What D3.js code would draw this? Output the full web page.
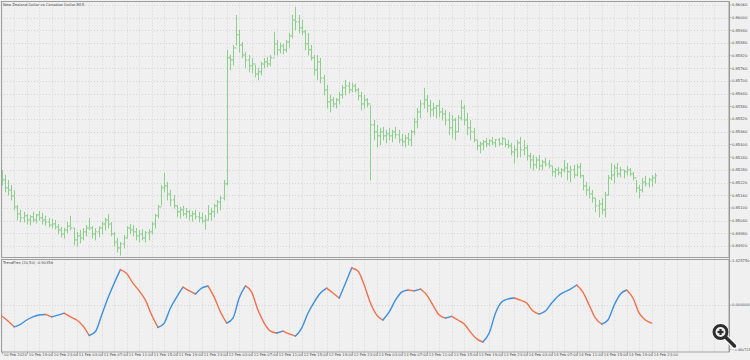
<!DOCTYPE html>
<html><head><meta charset="utf-8">
<script src="https://cdn.jsdelivr.net/npm/d3@7"></script>
<style>
html,body{margin:0;padding:0;background:#f0f0f0;}
svg{display:block;font-family:Tahoma,"DejaVu Sans",sans-serif;}
</style>
</head><body>
<svg id="c" width="750" height="360"></svg>
<script>
const chartTitle = "New Zealand Dollar vs Canadian Dollar,M15";
const indTitle = "TrendFlex (20,50) -0.90356";
const startTime = "2020-02-10T15:00";
const barMinutes = 30;

const high = [
.85280,.85256,.85233,.85209,.85185,.85114,.85091,.85082,.85072,.85067,
.85082,.85072,.85086,.85077,.85063,.85053,.85048,.85043,.85024,.85010,
.85005,.85034,.85063,.85005,.84987,.84996,.85005,.85019,.85053,.85014,
.85005,.85014,.85034,.85053,.85072,.85034,.84987,.84958,.84939,.84972,
.85014,.85024,.85019,.85005,.84996,.85000,.84991,.85000,.85034,.85072,
.85114,.85209,.85266,.85223,.85185,.85161,.85114,.85105,.85110,.85100,
.85091,.85086,.85091,.85082,.85077,.85067,.85114,.85100,.85119,.85138,
.85157,.85233,.85848,.85824,.85871,.86013,.85942,.85885,.85838,.85824,
.85810,.85777,.85763,.85791,.85810,.85815,.85824,.85933,.85895,.85881,
.85876,.85895,.85928,.86013,.86051,.86013,.85989,.85942,.85928,.85871,
.85824,.85824,.85810,.85729,.85682,.85635,.85625,.85620,.85649,.85682,
.85706,.85696,.85692,.85687,.85668,.85649,.85635,.85620,.85587,.85516,
.85493,.85479,.85483,.85469,.85479,.85469,.85483,.85469,.85450,.85446,
.85455,.85469,.85526,.85573,.85611,.85668,.85635,.85611,.85597,.85587,
.85611,.85573,.85564,.85554,.85540,.85526,.85540,.85611,.85587,.85550,
.85516,.85479,.85422,.85413,.85422,.85431,.85427,.85436,.85427,.85431,
.85436,.85427,.85422,.85408,.85399,.85422,.85436,.85422,.85399,.85361,
.85351,.85342,.85351,.85327,.85337,.85327,.85299,.85289,.85294,.85289,
.85327,.85313,.85299,.85304,.85308,.85313,.85256,.85223,.85204,.85185,
.85147,.85138,.85147,.85176,.85256,.85313,.85304,.85313,.85294,.85280,
.85299,.85289,.85271,.85233,.85209,.85242,.85252,.85242,.85256,.85266
];
const low = [
.85209,.85176,.85161,.85138,.85091,.85043,.85034,.85034,.85024,.85019,
.85034,.85029,.85043,.85024,.85019,.85010,.85005,.85000,.84977,.84963,
.84958,.84982,.84996,.84925,.84920,.84935,.84949,.84968,.84996,.84958,
.84949,.84963,.84977,.84996,.85005,.84968,.84920,.84892,.84877,.84911,
.84958,.84977,.84968,.84949,.84939,.84949,.84939,.84949,.84977,.85005,
.85053,.85114,.85176,.85138,.85110,.85100,.85058,.85053,.85063,.85053,
.85043,.85038,.85048,.85034,.85029,.85000,.85043,.85043,.85058,.85077,
.85091,.85138,.85209,.85753,.85777,.85871,.85838,.85810,.85763,.85744,
.85739,.85720,.85706,.85729,.85763,.85767,.85772,.85824,.85824,.85833,
.85829,.85838,.85857,.85904,.85942,.85928,.85919,.85848,.85824,.85800,
.85729,.85706,.85692,.85635,.85573,.85554,.85578,.85573,.85592,.85620,
.85635,.85644,.85649,.85649,.85611,.85564,.85573,.85578,.85233,.85422,
.85389,.85399,.85422,.85408,.85422,.85413,.85431,.85408,.85394,.85389,
.85399,.85394,.85446,.85479,.85526,.85573,.85554,.85531,.85535,.85526,
.85531,.85516,.85493,.85446,.85431,.85422,.85460,.85516,.85493,.85446,
.85422,.85413,.85375,.85361,.85375,.85389,.85394,.85399,.85389,.85394,
.85399,.85389,.85384,.85351,.85313,.85337,.85342,.85351,.85327,.85289,
.85280,.85289,.85280,.85280,.85299,.85289,.85252,.85247,.85256,.85247,
.85271,.85233,.85223,.85242,.85252,.85242,.85185,.85161,.85147,.85128,
.85082,.85058,.85072,.85058,.85161,.85233,.85218,.85247,.85247,.85242,
.85256,.85252,.85233,.85176,.85147,.85176,.85204,.85199,.85204,.85218
];
const close = [
.85233,.85195,.85185,.85157,.85105,.85072,.85053,.85063,.85043,.85058,
.85043,.85067,.85053,.85043,.85034,.85019,.85024,.85010,.84996,.84977,
.84996,.85014,.85005,.84949,.84968,.84958,.84987,.85005,.85005,.84977,
.84987,.85005,.85024,.85043,.85024,.84977,.84939,.84911,.84930,.84958,
.85005,.84996,.84987,.84968,.84977,.84958,.84982,.84987,.85024,.85063,
.85105,.85195,.85204,.85166,.85138,.85110,.85082,.85091,.85072,.85082,
.85063,.85072,.85058,.85053,.85038,.85043,.85072,.85082,.85110,.85128,
.85147,.85214,.85810,.85800,.85857,.85919,.85871,.85824,.85800,.85772,
.85781,.85734,.85744,.85781,.85791,.85781,.85810,.85876,.85848,.85866,
.85848,.85885,.85914,.85989,.85980,.85952,.85933,.85876,.85848,.85810,
.85753,.85791,.85715,.85658,.85602,.85611,.85592,.85611,.85635,.85668,
.85677,.85658,.85677,.85658,.85630,.85592,.85611,.85592,.85493,.85460,
.85441,.85460,.85441,.85450,.85441,.85460,.85446,.85422,.85413,.85431,
.85422,.85460,.85507,.85554,.85592,.85611,.85583,.85564,.85573,.85583,
.85554,.85545,.85516,.85479,.85516,.85460,.85526,.85573,.85516,.85479,
.85460,.85422,.85394,.85403,.85413,.85403,.85417,.85408,.85422,.85403,
.85427,.85399,.85394,.85365,.85375,.85408,.85375,.85384,.85346,.85327,
.85304,.85327,.85299,.85318,.85308,.85299,.85271,.85280,.85266,.85280,
.85289,.85271,.85280,.85256,.85294,.85252,.85204,.85185,.85166,.85147,
.85110,.85119,.85091,.85161,.85242,.85256,.85289,.85261,.85280,.85271,
.85280,.85261,.85242,.85195,.85185,.85223,.85214,.85233,.85242,.85252
];
// TrendFlex values, one per hour (every 2nd bar)
const trendflex = [
-0.35,-0.51,-0.70,-0.62,-0.48,-0.38,-0.32,-0.30,-0.38,-0.32,
-0.26,-0.38,-0.48,-0.67,-0.98,-0.85,-0.32,0.23,0.71,1.15,
1.02,0.71,0.46,0.16,-0.32,-0.72,-0.58,-0.09,0.26,0.58,
0.46,0.36,0.55,0.62,0.26,-0.22,-0.58,-0.42,0.23,0.62,
0.42,-0.16,-0.58,-0.84,-0.90,-0.84,-0.93,-1.00,-0.74,-0.26,
0.10,0.39,0.55,0.39,0.23,0.71,1.20,1.10,0.65,0.07,
-0.32,-0.48,-0.22,0.16,0.42,0.49,0.46,0.52,0.33,0.00,
-0.32,-0.42,-0.36,-0.48,-0.61,-0.87,-1.09,-1.19,-0.90,-0.26,
0.10,0.20,0.23,0.16,0.07,-0.19,-0.29,-0.19,0.07,0.29,
0.42,0.52,0.65,0.42,0.00,-0.42,-0.61,-0.48,0.00,0.36,
0.49,0.23,-0.26,-0.48,-0.58
];
const priceTicks = [0.8606,0.8600,0.8594,0.8588,0.8582,0.8576,0.8570,0.8564,0.8558,0.8552,
  0.8546,0.8540,0.8534,0.8528,0.8522,0.8516,0.8510,0.8504,0.8498,0.8492];
const indTicks = [1.425750, 0.000000, -1.480725];
const timeLabels = ["10 Feb 2020","10 Feb 19:00","10 Feb 23:00","11 Feb 03:00","11 Feb 07:00","11 Feb 11:00",
 "11 Feb 15:00","11 Feb 19:00","11 Feb 23:00","12 Feb 03:00","12 Feb 07:00","12 Feb 11:00","12 Feb 15:00",
 "12 Feb 19:00","12 Feb 23:00","13 Feb 03:00","13 Feb 07:00","13 Feb 11:00","13 Feb 15:00","13 Feb 19:00",
 "13 Feb 23:00","14 Feb 03:00","14 Feb 07:00","14 Feb 11:00","14 Feb 15:00","14 Feb 19:00","14 Feb 23:00"];
const labelStepHours = 4;

const svg = d3.select("#c");
const t0 = d3.timeParse("%Y-%m-%dT%H:%M")(startTime);
const barTime = i => d3.timeMinute.offset(t0, i*barMinutes);
const labelTime = k => d3.timeHour.offset(t0, k*labelStepHours);
const tEnd = labelTime(timeLabels.length-1);

const x = d3.scaleTime().domain([t0, tEnd]).range([1.7, 651.7]);
const yP = d3.scaleLinear().domain([0.8492, 0.8606]).range([246, 5]);
const yI = d3.scaleLinear().domain([indTicks[2], indTicks[0]]).range([351, 261]);

const L = 1, R = 729, mainTop = 1.5, mainBot = 257.5, indTop = 259.5, indBot = 352;
const gridColor = "#cfcfcf", frameColor = "#8c8c8c", textColor = "#4a4a4a";
const fs = 3.7;

svg.append("rect").attr("width",750).attr("height",360).attr("fill","#f0f0f0");

// vertical grid every 2 hours
const gridTimes = d3.range(0, (timeLabels.length)*2+4).map(k => d3.timeHour.offset(t0, k*2));
const gv = svg.append("g");
gridTimes.forEach(t => {
  const gx = Math.round(x(t)) + 0.5;
  if (gx <= L+1 || gx >= R) return;
  [[mainTop, mainBot],[indTop, indBot]].forEach(([a,b]) => {
    gv.append("line").attr("x1",gx).attr("x2",gx).attr("y1",a).attr("y2",b)
      .attr("stroke",gridColor).attr("stroke-width",0.8).attr("stroke-dasharray","1,2");
  });
});
priceTicks.forEach(p => {
  const gy = Math.round(yP(p)) + 0.5;
  svg.append("line").attr("x1",L).attr("x2",R).attr("y1",gy).attr("y2",gy)
    .attr("stroke",gridColor).attr("stroke-width",0.8).attr("stroke-dasharray","1,2");
});
svg.append("line").attr("x1",L).attr("x2",R).attr("y1",Math.round(yI(0))+0.5).attr("y2",Math.round(yI(0))+0.5)
  .attr("stroke",gridColor).attr("stroke-width",0.8).attr("stroke-dasharray","1,2");

svg.append("rect").attr("x",L+0.5).attr("y",mainTop).attr("width",R-L-0.5).attr("height",mainBot-mainTop)
  .attr("fill","none").attr("stroke",frameColor).attr("stroke-width",0.8);
svg.append("rect").attr("x",L+0.5).attr("y",indTop).attr("width",R-L-0.5).attr("height",indBot-indTop)
  .attr("fill","none").attr("stroke",frameColor).attr("stroke-width",0.8);

// price bars (OHLC)
const barColor = "#8ccf8c";
const gb = svg.append("g").attr("stroke",barColor).attr("stroke-width",1);
high.forEach((h,i) => {
  const bx = Math.round(x(barTime(i))) + 0.5;
  const open = i === 0 ? close[0] : close[i-1];
  gb.append("line").attr("x1",bx).attr("x2",bx).attr("y1",yP(h)).attr("y2",yP(low[i])+0.5);
  gb.append("line").attr("x1",bx-1.6).attr("x2",bx).attr("y1",yP(open)).attr("y2",yP(open));
  gb.append("line").attr("x1",bx).attr("x2",bx+1.6).attr("y1",yP(close[i])).attr("y2",yP(close[i]));
});

// TrendFlex line, colored by direction
const pts = trendflex.map((v,k) => [x(barTime(k*2)), yI(v)]);
const runs = [];
for (let k = 0; k < pts.length-1; k++) {
  const up = trendflex[k+1] >= trendflex[k];
  if (runs.length && runs[runs.length-1].up === up) runs[runs.length-1].p.push(pts[k+1]);
  else runs.push({up, p:[pts[k], pts[k+1]]});
}
const line = d3.line().curve(d3.curveMonotoneX);
runs.forEach(r => {
  svg.append("path").attr("d", line(r.p)).attr("fill","none")
    .attr("stroke", r.up ? "#3d8fe3" : "#f2704a").attr("stroke-width",1.4)
    .attr("stroke-linejoin","round").attr("stroke-linecap","round");
});

// right price axis
svg.append("line").attr("x1",R+0.5).attr("x2",R+0.5).attr("y1",mainTop).attr("y2",indBot)
  .attr("stroke",frameColor).attr("stroke-width",0.8);
priceTicks.forEach(p => {
  const ty = yP(p);
  svg.append("line").attr("x1",R+0.5).attr("x2",R+2.5).attr("y1",ty).attr("y2",ty).attr("stroke",frameColor).attr("stroke-width",0.6);
  svg.append("text").attr("x",R+3).attr("y",ty).attr("dy","0.35em").attr("font-size",fs).attr("fill",textColor)
    .text(d3.format(".5f")(p));
});
indTicks.forEach((v,k) => {
  const ty = k === 2 ? yI(v) - 1.5 : yI(v);
  svg.append("line").attr("x1",R+0.5).attr("x2",R+2.5).attr("y1",ty).attr("y2",ty).attr("stroke",frameColor).attr("stroke-width",0.6);
  svg.append("text").attr("x",R+3).attr("y",ty).attr("dy","0.35em").attr("font-size",k === 2 ? 3.3 : fs).attr("fill",textColor)
    .text(d3.format(".6f")(v));
});

// bottom time axis
timeLabels.forEach((lab,k) => {
  const tx = Math.round(x(labelTime(k))) + 0.5;
  svg.append("line").attr("x1",tx).attr("x2",tx).attr("y1",indBot).attr("y2",indBot+2.5).attr("stroke",frameColor).attr("stroke-width",0.6);
  svg.append("text").attr("x",tx+1.3).attr("y",indBot+3.6).attr("font-size",fs).attr("fill",textColor).text(lab);
});

svg.append("text").attr("x",3).attr("y",5.5).attr("font-size",fs).attr("fill",textColor).text(chartTitle);
svg.append("text").attr("x",3).attr("y",264).attr("font-size",fs).attr("fill",textColor).text(indTitle);

// magnifier icon
const mg = svg.append("g").attr("transform","translate(720.5,332)");
mg.append("line").attr("x1",5).attr("y1",5).attr("x2",14).attr("y2",14).attr("stroke","#fff").attr("stroke-width",6).attr("stroke-linecap","round");
mg.append("circle").attr("r",8.5).attr("fill","#fff");
mg.append("line").attr("x1",5).attr("y1",5).attr("x2",14).attr("y2",14).attr("stroke","#2e2e2e").attr("stroke-width",3.5).attr("stroke-linecap","round");
mg.append("circle").attr("r",6.5).attr("fill","#f0f0f0").attr("stroke","#2e2e2e").attr("stroke-width",3);
mg.append("line").attr("x1",-3).attr("x2",3).attr("y1",0).attr("y2",0).attr("stroke","#2e2e2e").attr("stroke-width",2.2);
mg.append("line").attr("x1",0).attr("x2",0).attr("y1",-3).attr("y2",3).attr("stroke","#2e2e2e").attr("stroke-width",2.2);
</script>
</body></html>
